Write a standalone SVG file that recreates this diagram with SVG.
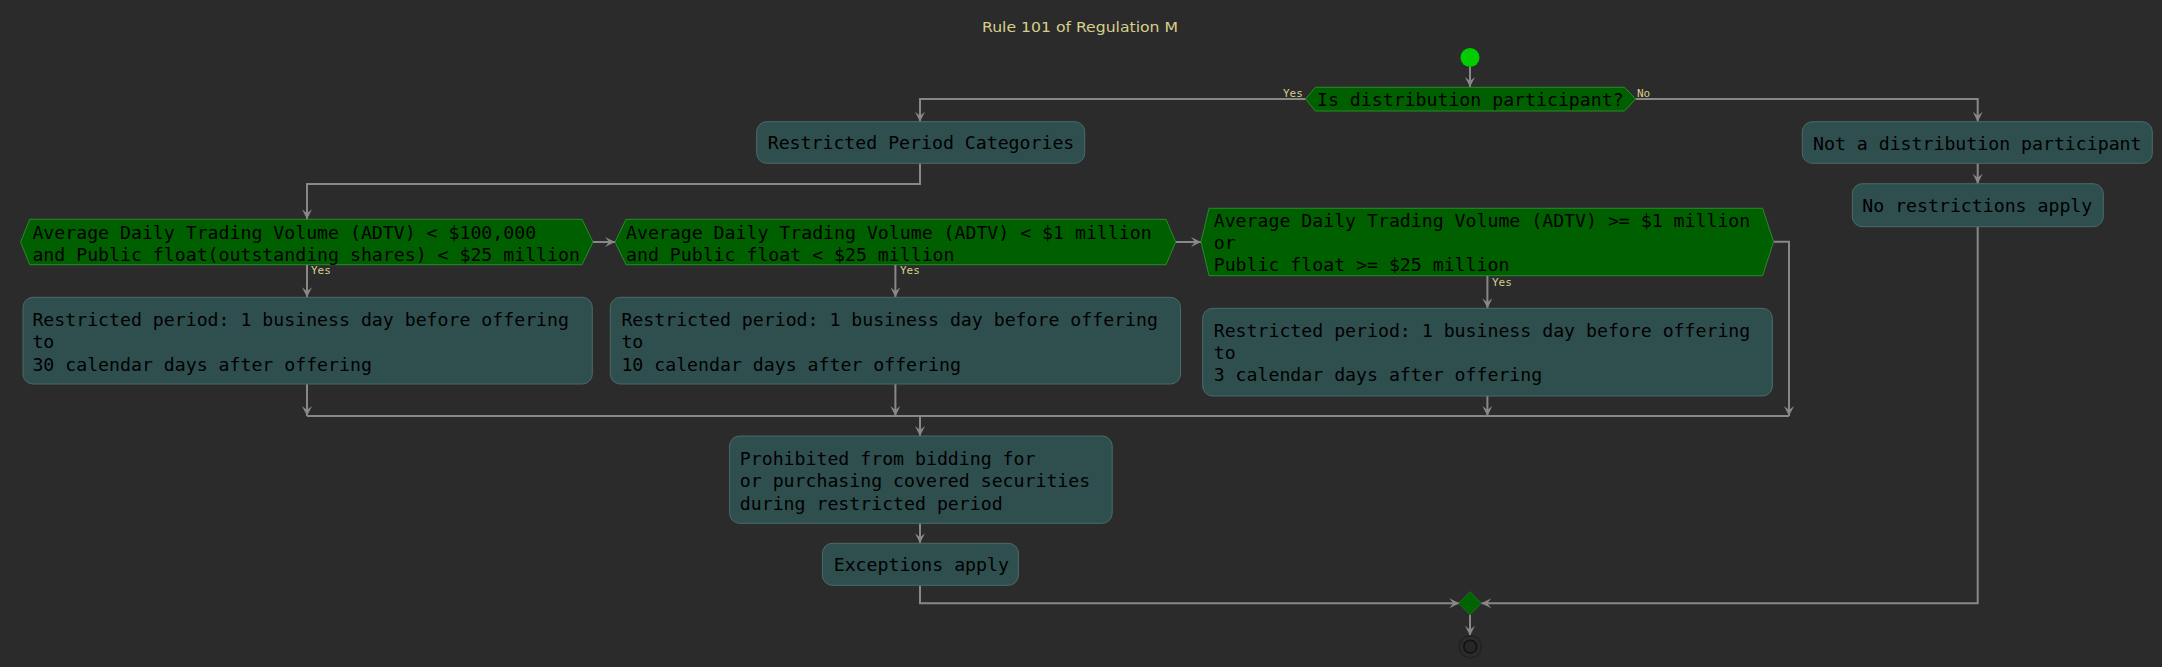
<svg xmlns="http://www.w3.org/2000/svg" width="2162" height="667" viewBox="0 0 2162 667">
<defs>
<style>
.bg{fill:#2b2b2b}
.box{fill:#2f4f4f;stroke:#4a6b6b;stroke-width:1}
.hex{fill:#006000;stroke:#2a8a2a;stroke-width:1}
.t{font-family:"DejaVu Sans Mono","Liberation Mono",monospace;font-size:18.2px;fill:#000000}
.lbl{font-family:"DejaVu Sans Mono","Liberation Mono",monospace;font-size:11px;fill:#d6cf8c}
.title{font-family:"DejaVu Sans","Liberation Sans",sans-serif;font-size:14px;fill:#d6cf8c}
.c{fill:none;stroke:#888888;stroke-width:2}
</style>
<marker id="ah" markerUnits="userSpaceOnUse" markerWidth="12" markerHeight="10" refX="10" refY="5" orient="auto">
<path d="M0,0 L10,5 L0,10 L4,5 Z" fill="#888888"/>
</marker>
</defs>
<rect class="bg" x="0" y="0" width="2162" height="667"/>
<text class="title" x="1080" y="32" text-anchor="middle" textLength="196" lengthAdjust="spacingAndGlyphs">Rule 101 of Regulation M</text>

<g id="connectors">
<path class="c" d="M1470,67 L1470,87" marker-end="url(#ah)"/>
<path class="c" d="M1305.6,99 L920,99 L920,121.7" marker-end="url(#ah)"/>
<path class="c" d="M1635.7,99 L1977.7,99 L1977.7,121.7" marker-end="url(#ah)"/>
<path class="c" d="M920,163.3 L920,184 L307,184 L307,219.3" marker-end="url(#ah)"/>
<path class="c" d="M593,242 L615,242" marker-end="url(#ah)"/>
<path class="c" d="M1175.7,242 L1201,242" marker-end="url(#ah)"/>
<path class="c" d="M307,264.7 L307,297.3" marker-end="url(#ah)"/>
<path class="c" d="M895.4,264.7 L895.4,297.3" marker-end="url(#ah)"/>
<path class="c" d="M1487.4,275.7 L1487.4,308.3" marker-end="url(#ah)"/>
<path class="c" d="M1773.6,241.7 L1789,241.7 L1789,416" marker-end="url(#ah)"/>
<path class="c" d="M307,384 L307,416" marker-end="url(#ah)"/>
<path class="c" d="M895.4,384 L895.4,416" marker-end="url(#ah)"/>
<path class="c" d="M1487.4,396 L1487.4,416" marker-end="url(#ah)"/>
<path class="c" d="M307,416 L1789,416"/>
<path class="c" d="M920,416 L920,436" marker-end="url(#ah)"/>
<path class="c" d="M920,523.3 L920,543.3" marker-end="url(#ah)"/>
<path class="c" d="M920,585.3 L920,603.3 L1459.3,603.3" marker-end="url(#ah)"/>
<path class="c" d="M1977.7,163.3 L1977.7,183.7" marker-end="url(#ah)"/>
<path class="c" d="M1977.7,226.7 L1977.7,603.3 L1481.3,603.3" marker-end="url(#ah)"/>
<path class="c" d="M1470,614.7 L1470,635.7" marker-end="url(#ah)"/>
<text class="lbl" x="1283" y="97">Yes</text>
<text class="lbl" x="1637" y="97">No</text>
<text class="lbl" x="311" y="274">Yes</text>
<text class="lbl" x="900" y="274">Yes</text>
<text class="lbl" x="1492" y="286">Yes</text>
</g>

<g id="start"><circle cx="1470" cy="57.5" r="9.5" fill="#00cc00"/></g>

<g id="decision-participant">
<polygon class="hex" points="1305.6,99 1315.3,87.3 1624.5,87.3 1635.7,99 1624.5,111 1315.3,111"/>
<text class="t" x="1317" y="106">Is distribution participant?</text>
</g>

<g id="restricted-categories">
<rect class="box" x="756.7" y="121.7" width="328" height="41.6" rx="10"/>
<text class="t" x="767.7" y="149">Restricted Period Categories</text>
</g>

<g id="not-participant">
<rect class="box" x="1802.3" y="121.7" width="350" height="41.6" rx="10"/>
<text class="t" x="1813" y="149.5">Not a distribution participant</text>
</g>

<g id="no-restrictions">
<rect class="box" x="1852.3" y="183.7" width="251" height="43" rx="10"/>
<text class="t" x="1862.3" y="211.5">No restrictions apply</text>
</g>

<g id="decision-adtv-100k">
<polygon class="hex" points="20.6,242 29.7,219.3 582,219.3 593,242 582,264.7 29.7,264.7"/>
<text class="t" x="32.4" y="239"><tspan x="32.4">Average Daily Trading Volume (ADTV) &lt; $100,000</tspan><tspan x="32.4" y="260.5">and Public float(outstanding shares) &lt; $25 million</tspan></text>
</g>

<g id="decision-adtv-1m">
<polygon class="hex" points="615,242 626,219.3 1166,219.3 1175.7,242 1166,264.7 626,264.7"/>
<text class="t" x="626" y="239"><tspan x="626">Average Daily Trading Volume (ADTV) &lt; $1 million</tspan><tspan x="626" y="260.5">and Public float &lt; $25 million</tspan></text>
</g>

<g id="decision-adtv-large">
<polygon class="hex" points="1201,241.7 1209,208.3 1762.6,208.3 1773.6,241.7 1762.6,275.7 1209,275.7"/>
<text class="t" x="1213.7" y="226.5"><tspan x="1213.7">Average Daily Trading Volume (ADTV) &gt;= $1 million</tspan><tspan x="1213.7" y="248.7">or</tspan><tspan x="1213.7" y="270.9">Public float &gt;= $25 million</tspan></text>
</g>

<g id="period-30">
<rect class="box" x="23" y="297.3" width="569.3" height="86.7" rx="10"/>
<text class="t" x="32.4" y="326"><tspan x="32.4">Restricted period: 1 business day before offering</tspan><tspan x="32.4" y="348.3">to</tspan><tspan x="32.4" y="370.6">30 calendar days after offering</tspan></text>
</g>

<g id="period-10">
<rect class="box" x="610.3" y="297.3" width="570.2" height="86.7" rx="10"/>
<text class="t" x="621.4" y="326"><tspan x="621.4">Restricted period: 1 business day before offering</tspan><tspan x="621.4" y="348.3">to</tspan><tspan x="621.4" y="370.6">10 calendar days after offering</tspan></text>
</g>

<g id="period-3">
<rect class="box" x="1202.7" y="308.3" width="569.7" height="87.7" rx="10"/>
<text class="t" x="1213.7" y="336.7"><tspan x="1213.7">Restricted period: 1 business day before offering</tspan><tspan x="1213.7" y="358.8">to</tspan><tspan x="1213.7" y="380.9">3 calendar days after offering</tspan></text>
</g>

<g id="prohibited">
<rect class="box" x="729.6" y="436" width="382.6" height="87.3" rx="10"/>
<text class="t" x="739.8" y="464.5"><tspan x="739.8">Prohibited from bidding for</tspan><tspan x="739.8" y="487.2">or purchasing covered securities</tspan><tspan x="739.8" y="509.9">during restricted period</tspan></text>
</g>

<g id="exceptions">
<rect class="box" x="822.4" y="543.3" width="196" height="42" rx="10"/>
<text class="t" x="833.7" y="571.2">Exceptions apply</text>
</g>

<g id="merge">
<polygon points="1470,591.7 1481.3,603.3 1470,614.7 1458.7,603.3" fill="#006400" stroke="#1f6f1f" stroke-width="1"/>
</g>

<g id="end">
<circle cx="1470.3" cy="646.7" r="11" fill="none" stroke="#222222" stroke-width="1.5"/>
<circle cx="1470.3" cy="646.7" r="6.5" fill="#262626" stroke="#111111" stroke-width="1.5"/>
</g>
</svg>
